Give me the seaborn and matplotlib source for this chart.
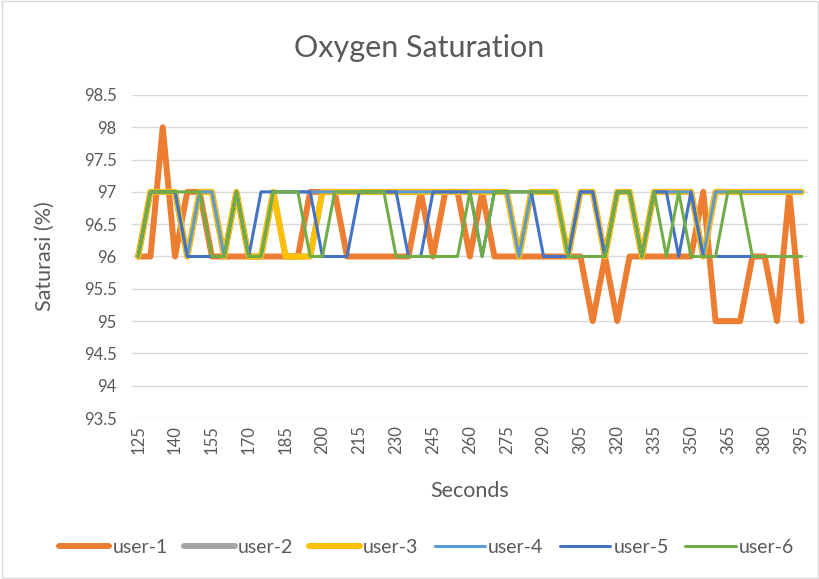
import pandas as pd
import seaborn as sns
import matplotlib.pyplot as plt
from matplotlib.patches import Rectangle

# data, one value every 5 seconds
seconds = [125, 130, 135, 140, 145, 150, 155, 160, 165, 170,
           175, 180, 185, 190, 195, 200, 205, 210, 215, 220,
           225, 230, 235, 240, 245, 250, 255, 260, 265, 270,
           275, 280, 285, 290, 295, 300, 305, 310, 315, 320,
           325, 330, 335, 340, 345, 350, 355, 360, 365, 370,
           375, 380, 385, 390, 395]

user_1 = [96, 96, 98, 96, 97, 97, 96, 96, 96, 96,
          96, 96, 96, 96, 97, 97, 97, 96, 96, 96,
          96, 96, 96, 97, 96, 97, 97, 96, 97, 96,
          96, 96, 96, 96, 96, 96, 96, 95, 96, 95,
          96, 96, 96, 96, 96, 96, 97, 95, 95, 95,
          96, 96, 95, 97, 95]

user_2 = [96, 97, 97, 97, 96, 97, 97, 96, 97, 96,
          96, 97, 96, 96, 96, 97, 97, 97, 97, 97,
          97, 97, 97, 97, 97, 97, 97, 97, 97, 97,
          97, 96, 97, 97, 97, 96, 97, 97, 96, 97,
          97, 96, 97, 97, 97, 97, 96, 97, 97, 97,
          97, 97, 97, 97, 97]

user_3 = [96, 97, 97, 97, 96, 97, 97, 96, 97, 96,
          96, 97, 96, 96, 96, 97, 97, 97, 97, 97,
          97, 97, 97, 97, 97, 97, 97, 97, 97, 97,
          97, 96, 97, 97, 97, 96, 97, 97, 96, 97,
          97, 96, 97, 97, 97, 97, 96, 97, 97, 97,
          97, 97, 97, 97, 97]

user_4 = [96, 97, 97, 97, 96, 97, 97, 96, 97, 96,
          96, 97, 97, 97, 97, 97, 97, 97, 97, 97,
          97, 97, 97, 97, 97, 97, 97, 97, 97, 97,
          97, 96, 97, 97, 97, 96, 97, 97, 96, 97,
          97, 96, 97, 97, 97, 97, 96, 97, 97, 97,
          97, 97, 97, 97, 97]

user_5 = [96, 97, 97, 97, 96, 96, 96, 96, 97, 96,
          97, 97, 97, 97, 97, 96, 96, 96, 97, 97,
          97, 97, 96, 96, 97, 97, 97, 97, 96, 97,
          97, 97, 97, 96, 96, 96, 97, 97, 96, 97,
          97, 96, 97, 97, 96, 97, 96, 96, 96, 96,
          96, 96, 96, 96, 96]

user_6 = [96, 97, 97, 97, 97, 97, 96, 96, 97, 96,
          96, 97, 97, 97, 96, 96, 97, 97, 97, 97,
          97, 96, 96, 96, 96, 96, 96, 97, 96, 97,
          97, 97, 97, 97, 97, 96, 96, 96, 96, 97,
          97, 96, 97, 96, 97, 96, 96, 96, 97, 97,
          96, 96, 96, 96, 96]

users = ['user-1', 'user-2', 'user-3', 'user-4', 'user-5', 'user-6']
x_ticks = [125, 140, 155, 170, 185, 200, 215, 230, 245, 260,
           275, 290, 305, 320, 335, 350, 365, 380, 395]
y_ticks = [93.5, 94, 94.5, 95, 95.5, 96, 96.5, 97, 97.5, 98, 98.5]
y_labels = ['93.5', '94', '94.5', '95', '95.5', '96', '96.5', '97', '97.5', '98', '98.5']

colors = {'user-1': '#ED7D31', 'user-2': '#A5A5A5', 'user-3': '#FFC000',
          'user-4': '#5B9BD5', 'user-5': '#4472C4', 'user-6': '#70AD47'}
widths = {'user-1': 4.3, 'user-2': 4.3, 'user-3': 4.3,
          'user-4': 2.2, 'user-5': 2.2, 'user-6': 2.2}

df = pd.DataFrame({'Seconds': seconds, 'user-1': user_1, 'user-2': user_2,
                   'user-3': user_3, 'user-4': user_4, 'user-5': user_5,
                   'user-6': user_6})
df = df.melt(id_vars='Seconds', var_name='user', value_name='Saturasi')

sns.set_theme(style='white')
plt.rcParams['font.family'] = ['Lato', 'DejaVu Sans']
text_color = '#595959'

fig = plt.figure(figsize=(8.2, 5.79), dpi=100)
ax = fig.add_axes([0.161, 0.278, 0.824, 0.558])

for name in users:
    sns.lineplot(data=df[df['user'] == name], x='Seconds', y='Saturasi',
                 color=colors[name], linewidth=widths[name], label=name, ax=ax)

ax.set_xlim(122.5, 397.5)
ax.set_ylim(93.5, 98.5)
ax.set_xticks(x_ticks)
ax.set_xticklabels([str(t) for t in x_ticks], rotation=90)
ax.set_yticks(y_ticks)
ax.set_yticklabels(y_labels)
ax.tick_params(length=0, labelsize=12, colors=text_color)
ax.tick_params(axis='y', pad=11)
ax.tick_params(axis='x', pad=5)
ax.yaxis.grid(True, color='#D9D9D9', linewidth=1)
ax.set_axisbelow(True)
for s in ax.spines.values():
    s.set_visible(False)

ax.set_xlabel('Seconds', fontsize=15.5, color=text_color)
ax.xaxis.set_label_coords(0.5, -0.195)
ax.set_ylabel('Saturasi (%)', fontsize=15.5, color=text_color)
ax.yaxis.set_label_coords(-0.114, 0.5)

fig.text(0.511, 0.917, 'Oxygen Saturation', ha='center', va='center',
         fontsize=22, color=text_color)

handles, labels = ax.get_legend_handles_labels()
ax.get_legend().remove()
fig.legend(handles, labels, loc='center', bbox_to_anchor=(0.52, 0.055), ncol=6,
           frameon=False, fontsize=14, handlelength=2.6, handletextpad=0.15,
           columnspacing=0.85, labelcolor=text_color)

fig.add_artist(Rectangle((0.002, 0.002), 0.996, 0.996, transform=fig.transFigure,
                         fill=False, edgecolor='#D9D9D9', linewidth=1))

fig.savefig('out.png', dpi=100)
plt.close(fig)
